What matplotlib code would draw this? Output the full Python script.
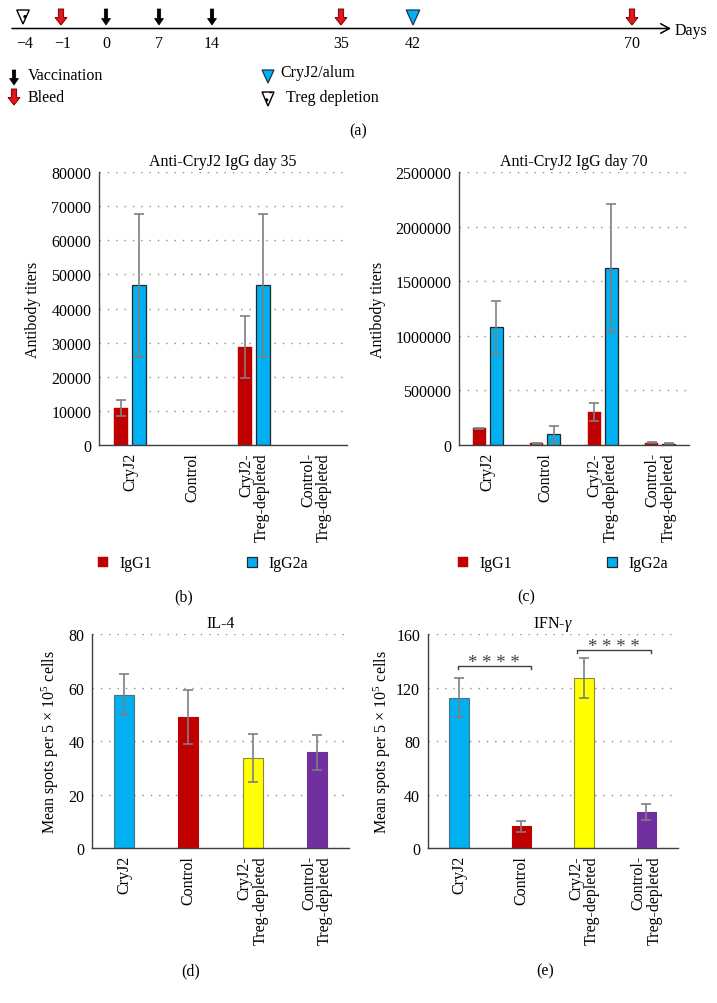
import numpy as np
import matplotlib
matplotlib.use("Agg")
import matplotlib.pyplot as plt
from matplotlib.patches import FancyArrow, Polygon
from matplotlib.ticker import FuncFormatter, MultipleLocator

plt.rcParams['font.family'] = ['Liberation Serif', 'DejaVu Serif']
plt.rcParams['font.size'] = 11.5
plt.rcParams['mathtext.fontset'] = 'custom'
plt.rcParams['mathtext.rm'] = 'Liberation Serif'
plt.rcParams['mathtext.it'] = 'Liberation Serif:italic'
plt.rcParams['hatch.linewidth'] = 1.2

# ---------------- data ----------------
timeline_days = [-4, -1, 0, 7, 14, 35, 42, 70]
timeline_pos = [23, 61, 106, 159, 212, 341, 413, 632]   # schematic (non-linear) positions
timeline_event = ['treg', 'bleed', 'vacc', 'vacc', 'vacc', 'bleed', 'alum', 'bleed']

groups = ['CryJ2', 'Control', 'CryJ2-\nTreg-depleted', 'Control-\nTreg-depleted']
series_names = ['IgG1', 'IgG2a']

d35_igg1 = [10800, 0, 28700, 0]
d35_igg1_err = [2400, 0, 9000, 0]
d35_igg2a = [46800, 0, 46800, 0]
d35_igg2a_err = [21000, 0, 21000, 0]

d70_igg1 = [155000, 14000, 300000, 22000]
d70_igg1_err = [4000, 6000, 82000, 7000]
d70_igg2a = [1078000, 100000, 1618000, 12000]
d70_igg2a_err = [244000, 75000, 585000, 3000]

il4 = [57.3, 49.0, 33.8, 35.8]
il4_err = [7.6, 10.0, 9.0, 6.5]
ifng = [112.6, 16.4, 127.6, 27.2]
ifng_err = [14.5, 4.1, 15.0, 6.0]

sig_spans = [(-0.02, 1.15), (1.89, 3.07)]
sig_heights = [136.5, 148.3]
sig_labels = ['* * * *', '* * * *']

# ---------------- style ----------------
BLUE = '#00B0F0'
RED = '#C00000'
YELLOW = '#FFFF00'
PURPLE = '#7030A0'
group_colors = [BLUE, RED, YELLOW, PURPLE]
ERR = '#7f7f7f'
SPINE = '#404040'
GRID = '#8c8c8c'

W, H = 717, 1004
fig = plt.figure(figsize=(W / 100, H / 100), dpi=100)


def fx(px):
    return px / W


def fy(py):
    return 1 - py / H


def make_axes(left, right, top, bottom):
    return fig.add_axes([fx(left), fy(bottom), (right - left) / W, (bottom - top) / H])


def style_axes(ax, ymax, step, title, ylabel, ylabel_x, fmt):
    ax.set_xlim(-0.5, 3.5)
    ax.set_ylim(0, ymax)
    ax.yaxis.set_major_locator(MultipleLocator(step))
    ax.yaxis.set_major_formatter(FuncFormatter(fmt))
    for s in ['top', 'right']:
        ax.spines[s].set_visible(False)
    for s in ['left', 'bottom']:
        ax.spines[s].set_color(SPINE)
        ax.spines[s].set_linewidth(1.0)
    ax.spines['bottom'].set_zorder(5)
    ax.tick_params(axis='both', length=0)
    ax.tick_params(axis='y', pad=5.5)
    ax.tick_params(axis='x', pad=5)
    ax.yaxis.grid(True, linestyle=(0, (1, 5)), color=GRID, linewidth=1.0)
    ax.set_axisbelow(True)
    ax.set_xticks(range(len(groups)))
    ax.set_xticklabels(groups, rotation=90, ha='center', va='top',
                       multialignment='right', linespacing=1.0)
    ax.set_title(title, pad=5, fontsize=11.5)
    ax.set_ylabel(ylabel, va='center')
    ax.yaxis.set_label_coords(ylabel_x, 0.5)


def int_fmt(v, _):
    return f'{v:.0f}'


# ---------------- (a) timeline ----------------
axt = fig.add_axes([0, fy(140), 1, 140 / H])
axt.set_xlim(0, W)
axt.set_ylim(140, 0)
axt.axis('off')

axt.annotate('', xy=(671, 29.5), xytext=(12, 29.5),
             arrowprops=dict(arrowstyle='->,head_length=0.55,head_width=0.3',
                             color='black', lw=1.1, shrinkA=0, shrinkB=0))
axt.text(675, 31, 'Days', ha='left', va='center')


def black_arrow(x, y0, y1):
    axt.add_patch(FancyArrow(x, y0, 0, y1 - y0, width=3.4, head_width=9, head_length=6.5,
                             length_includes_head=True, fc='black', ec='black', lw=0.5))


def red_arrow(x, y0, y1):
    axt.add_patch(FancyArrow(x, y0, 0, y1 - y0, width=5.2, head_width=12, head_length=7.5,
                             length_includes_head=True, fc='#E0161B', ec='#7a0000', lw=0.7))


def blue_tri(x, y0, y1, w):
    axt.add_patch(Polygon([[x - w / 2, y0], [x + w / 2, y0], [x, y1]], closed=True,
                          fc=BLUE, ec='#1c3550', lw=0.9))


def treg_tri(x, y0, y1, w):
    axt.add_patch(Polygon([[x - w / 2, y0], [x + w / 2, y0], [x, y1]], closed=True,
                          fc='white', ec='black', lw=1.0, hatch='..'))


for d, p, ev in zip(timeline_days, timeline_pos, timeline_event):
    if ev == 'vacc':
        black_arrow(p, 10, 26)
    elif ev == 'bleed':
        red_arrow(p, 10, 26)
    elif ev == 'alum':
        blue_tri(p, 11, 26, 13.5)
    else:
        treg_tri(p, 11, 25, 12.5)
    lab = f'{d}'.replace('-', '\u2212')
    axt.text(p + (2 if d < 0 else 0), 43.5, lab, ha='center', va='center')

black_arrow(14, 71, 86)
axt.text(28, 76, 'Vaccination', ha='left', va='center')
red_arrow(14, 90, 106)
axt.text(28, 97.5, 'Bleed', ha='left', va='center')
blue_tri(268, 71, 84, 12)
axt.text(280, 73, 'CryJ2/alum', ha='left', va='center')
treg_tri(268, 93, 107, 12)
axt.text(286, 97.5, 'Treg depletion', ha='left', va='center')
fig.text(fx(358), fy(131), '(a)', ha='center', va='center')

# ---------------- (b), (c) grouped bars ----------------
x = np.arange(len(groups))
off = 0.145
bw = 0.225


def grouped(ax, v1, e1, v2, e2):
    v1 = np.asarray(v1, float)
    v2 = np.asarray(v2, float)
    b1 = ax.bar(x - off, v1, bw, color=RED, edgecolor=RED,
                linewidth=np.where(v1 > 0, 0.3, 0.0), zorder=2, label=series_names[0])
    b2 = ax.bar(x + off, v2, bw, color=BLUE, edgecolor='#262626',
                linewidth=np.where(v2 > 0, 0.9, 0.0), zorder=2, label=series_names[1])
    for xs, v, e in ((x - off, v1, e1), (x + off, v2, e2)):
        e = np.asarray(e, float)
        m = v > 0
        ax.errorbar(xs[m], v[m], yerr=e[m], fmt='none', ecolor=ERR, elinewidth=1.2,
                    capsize=3.5, capthick=1.2, zorder=3)
    return b1, b2


axb = make_axes(99, 347, 173, 446)
hb = grouped(axb, d35_igg1, d35_igg1_err, d35_igg2a, d35_igg2a_err)
style_axes(axb, 80000, 10000, 'Anti-CryJ2 IgG day 35', 'Antibody titers', -0.265, int_fmt)

axc = make_axes(459, 689, 173, 446)
hc = grouped(axc, d70_igg1, d70_igg1_err, d70_igg2a, d70_igg2a_err)
style_axes(axc, 2500000, 500000, 'Anti-CryJ2 IgG day 70', 'Antibody titers', -0.352, int_fmt)

for ax, hs, left in ((axb, hb, 99), (axc, hc, 459)):
    leg = fig.legend(hs, series_names, loc='center left', bbox_to_anchor=(fx(left - 1), fy(564.5)),
                     ncol=2, frameon=False, handlelength=0.62, handleheight=0.62,
                     handletextpad=0.75, columnspacing=5.9, borderpad=0, borderaxespad=0)
    for hdl, lw in zip(leg.legend_handles, (0.3, 0.9)):
        hdl.set_linewidth(lw)

fig.text(fx(184), fy(597), '(b)', ha='center', va='center')
fig.text(fx(526), fy(597), '(c)', ha='center', va='center')

# ---------------- (d), (e) single bars ----------------
edge_cols = ['#4d6f80', RED, '#8a8a3a', PURPLE]
ylab = 'Mean spots per 5 \u00d7 10$^{5}$ cells'


def single(ax, v, e, bwid):
    ax.bar(x, v, bwid, color=group_colors, edgecolor=edge_cols, linewidth=0.8, zorder=2)
    ax.errorbar(x, v, yerr=e, fmt='none', ecolor=ERR, elinewidth=1.2,
                capsize=3.8, capthick=1.2, zorder=3)


axd = make_axes(92, 349, 635, 849.3)
single(axd, il4, il4_err, 0.31)
style_axes(axd, 80, 20, 'IL-4', ylab, -0.163, int_fmt)

axe = make_axes(427.7, 677.7, 635.3, 849.3)
single(axe, ifng, ifng_err, 0.315)
style_axes(axe, 160, 40, 'IFN-$\\gamma$', ylab, -0.183, int_fmt)

for (x0, x1), h, lab in zip(sig_spans, sig_heights, sig_labels):
    axe.plot([x0, x0, x1, x1], [h - 2.2, h, h, h - 2.2], color='#404040', lw=1.0, zorder=4)
    axe.text((x0 + x1) / 2, h - 4.0, lab, ha='center', va='bottom', fontsize=13.5, color='#404040')

fig.text(fx(191), fy(971), '(d)', ha='center', va='center')
fig.text(fx(545), fy(971), '(e)', ha='center', va='center')

fig.savefig('out.png', dpi=100)
